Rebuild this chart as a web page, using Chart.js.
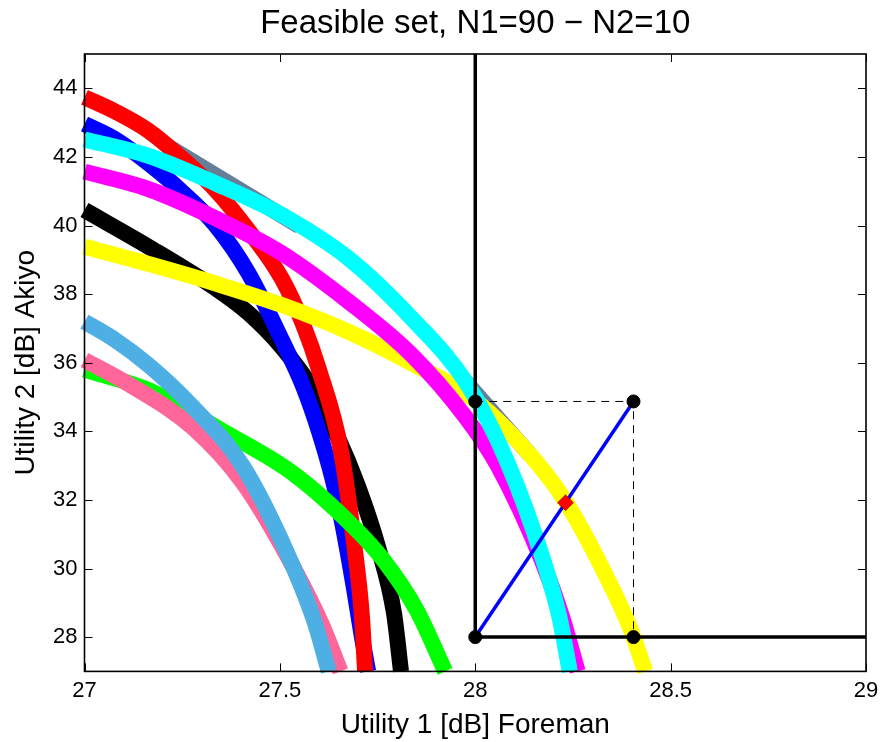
<!DOCTYPE html>
<html>
<head>
<meta charset="utf-8">
<script src="https://cdn.jsdelivr.net/npm/chart.js@4"></script>
<style>
  html, body { margin: 0; padding: 0; background: #fff; }
</style>
</head>
<body>
<canvas id="feasibleChart" width="883" height="742"></canvas>
<script>

// axis ticks
let xTicks = [27, 27.5, 28, 28.5, 29]
let yTicks = [28, 30, 32, 34, 36, 38, 40, 42, 44]

// utility curves, one pair of arrays per colour
let redX = [27.000, 27.079, 27.164, 27.249, 27.335, 27.420, 27.505, 27.560, 27.600, 27.656, 27.692, 27.710, 27.718]
let redY = [43.74, 43.32, 42.76, 41.96, 41.04, 39.85, 38.45, 37.10, 35.80, 33.45, 30.54, 28.60, 27.00]

let blueX = [27.000, 27.079, 27.164, 27.249, 27.335, 27.420, 27.505, 27.560, 27.600, 27.635, 27.660, 27.690, 27.710, 27.726]
let blueY = [42.96, 42.51, 41.81, 40.99, 40.01, 38.60, 36.66, 35.30, 34.00, 32.60, 31.30, 29.40, 28.00, 27.00]

let blackX = [27.000, 27.164, 27.335, 27.420, 27.505, 27.580, 27.645, 27.700, 27.752, 27.792, 27.810]
let blackY = [40.45, 39.38, 38.17, 37.44, 36.45, 35.30, 33.90, 32.40, 30.60, 28.70, 27.00]

let cyanX = [27.000, 27.164, 27.335, 27.505, 27.676, 27.838, 27.978, 28.080, 28.174, 28.215, 28.242]
let cyanY = [42.51, 42.03, 41.23, 40.31, 39.04, 37.29, 35.40, 33.16, 30.25, 28.60, 27.00]

let magentaX = [27.000, 27.164, 27.335, 27.505, 27.676, 27.838, 27.974, 28.059, 28.170, 28.222, 28.262]
let magentaY = [41.57, 41.06, 40.21, 39.19, 37.78, 36.22, 34.43, 32.97, 30.25, 28.60, 27.00]

let yellowX = [27.000, 27.164, 27.335, 27.505, 27.676, 27.838, 28.000, 28.153, 28.232, 28.336, 28.395, 28.435]
let yellowY = [39.38, 38.88, 38.31, 37.68, 36.90, 35.98, 34.90, 33.15, 31.94, 29.76, 28.30, 27.00]

let greenX = [27.000, 27.164, 27.364, 27.534, 27.688, 27.765, 27.850, 27.923]
let greenY = [35.80, 35.20, 33.94, 32.77, 31.22, 30.25, 28.79, 27.00]

let skyX = [27.000, 27.079, 27.164, 27.260, 27.406, 27.534, 27.590, 27.625]
let skyY = [37.20, 36.66, 35.93, 34.91, 32.97, 30.05, 28.40, 27.00]

let pinkX = [27.000, 27.109, 27.277, 27.406, 27.534, 27.610, 27.655]
let pinkY = [36.08, 35.40, 34.11, 32.49, 30.05, 28.30, 27.00]

// straight pieces of the hull
let hullAX = [27.21, 27.55]
let hullAY = [42.33, 39.98]
let hullBX = [27.96, 28.14]
let hullBY = [35.64, 33.32]

// disagreement point, ideal point and the chosen solution
let boxX = [28, 28.405]
let boxY = [28, 34.87]
let solutionX = [28.231]
let solutionY = [31.92]

let pts = (xs, ys) => xs.map((x, i) => ({ x: x, y: ys[i] }))

let curve = (xs, ys, color) => ({
  data: pts(xs, ys),
  borderColor: color,
  borderWidth: 16,
  borderCapStyle: 'butt',
  pointRadius: 0,
  cubicInterpolationMode: 'monotone',
  clip: false
})

let plainLine = (data, color, width, dash) => ({
  data: data,
  borderColor: color,
  borderWidth: width,
  borderDash: dash || [],
  pointRadius: 0,
  tension: 0,
  clip: false
})

// inward tick marks and the box round the plot
const frameTicks = {
  id: 'frameTicks',
  afterDatasetsDraw(chart) {
    const ctx = chart.ctx
    const a = chart.chartArea
    const sx = chart.scales.x
    const sy = chart.scales.y
    const len = 8
    ctx.save()
    ctx.strokeStyle = '#000'
    ctx.lineWidth = 1
    ctx.beginPath()
    xTicks.forEach(v => {
      const px = Math.round(sx.getPixelForValue(v)) + 0.5
      ctx.moveTo(px, a.bottom); ctx.lineTo(px, a.bottom - len)
      ctx.moveTo(px, a.top); ctx.lineTo(px, a.top + len)
    })
    yTicks.forEach(v => {
      const py = Math.round(sy.getPixelForValue(v)) + 0.5
      ctx.moveTo(a.left, py); ctx.lineTo(a.left + len, py)
      ctx.moveTo(a.right, py); ctx.lineTo(a.right - len, py)
    })
    ctx.stroke()
    ctx.lineWidth = 1.6
    ctx.strokeRect(a.left, a.top, a.right - a.left, a.bottom - a.top)
    ctx.restore()
  }
}

let createFeasibleChart = () => {
  const ctx = document.getElementById('feasibleChart').getContext('2d')
  const font = 'Liberation Sans, Arial, Helvetica, sans-serif'
  return new Chart(ctx, {
    type: 'scatter',
    data: {
      datasets: [
        // markers and guide lines on top
        {
          data: pts(solutionX, solutionY),
          pointStyle: 'rectRot',
          pointRadius: 8,
          backgroundColor: '#ff0000',
          borderColor: '#600000',
          borderWidth: 0.5,
          showLine: false,
          clip: false
        },
        {
          data: [{ x: boxX[0], y: boxY[0] }, { x: boxX[0], y: boxY[1] }, { x: boxX[1], y: boxY[1] }, { x: boxX[1], y: boxY[0] }],
          pointStyle: 'circle',
          pointRadius: 6.5,
          backgroundColor: '#000',
          borderColor: '#000',
          showLine: false,
          clip: false
        },
        plainLine([{ x: boxX[0], y: boxY[0] }, { x: boxX[1], y: boxY[1] }], '#0000ff', 3.5),
        plainLine([{ x: boxX[0], y: 45 }, { x: boxX[0], y: boxY[0] }, { x: 29, y: boxY[0] }], '#000', 3.5),
        plainLine([{ x: boxX[0], y: boxY[1] }, { x: boxX[1], y: boxY[1] }, { x: boxX[1], y: boxY[0] }], '#000', 1, [8, 6]),
        // utility curves, topmost first
        curve(skyX, skyY, '#4dafe3'),
        curve(pinkX, pinkY, '#ff6699'),
        curve(greenX, greenY, '#00ff00'),
        curve(cyanX, cyanY, '#00ffff'),
        curve(magentaX, magentaY, '#ff00ff'),
        curve(yellowX, yellowY, '#ffff00'),
        curve(redX, redY, '#ff0000'),
        curve(blueX, blueY, '#0000ff'),
        curve(blackX, blackY, '#000000'),
        plainLine(pts(hullAX, hullAY), '#667f99', 16),
        plainLine(pts(hullBX, hullBY), '#667f99', 16)
      ]
    },
    options: {
      responsive: false,
      animation: false,
      devicePixelRatio: 1,
      layout: { padding: { left: 0, right: 17, top: 0, bottom: 0 } },
      datasets: { scatter: { showLine: true } },
      plugins: {
        legend: { display: false },
        tooltip: { enabled: false },
        title: {
          display: true,
          fullSize: false,
          text: 'Feasible set, N1=90 \u2212 N2=10',
          color: '#000',
          font: { family: font, size: 33, weight: 'normal' },
          padding: { top: 4, bottom: 10.4 }
        }
      },
      scales: {
        x: {
          type: 'linear',
          min: 27,
          max: 29,
          afterBuildTicks: s => { s.ticks = xTicks.map(v => ({ value: v })) },
          afterFit: s => { s.height = 70.6; s.paddingLeft = 0; s.paddingRight = 0 },
          grid: { display: false, drawTicks: false },
          border: { display: false },
          ticks: {
            color: '#000',
            padding: 6,
            maxRotation: 0,
            font: { family: font, size: 22 },
            callback: v => String(v)
          },
          title: {
            display: true,
            text: 'Utility 1 [dB] Foreman',
            color: '#000',
            font: { family: font, size: 28 },
            padding: { top: 2, bottom: 0 }
          }
        },
        y: {
          type: 'linear',
          min: 27,
          max: 45,
          afterBuildTicks: s => { s.ticks = yTicks.map(v => ({ value: v })) },
          afterFit: s => { s.width = 84.5; s.paddingTop = 0; s.paddingBottom = 0 },
          grid: { display: false, drawTicks: false },
          border: { display: false },
          ticks: {
            color: '#000',
            padding: 7,
            font: { family: font, size: 22 },
            callback: v => String(v)
          },
          title: {
            display: true,
            text: 'Utility 2 [dB] Akiyo',
            color: '#000',
            font: { family: font, size: 28 },
            padding: { top: 9, bottom: 0 }
          }
        }
      }
    },
    plugins: [frameTicks]
  })
}

let chartInstance = createFeasibleChart()
</script>
</body>
</html>
